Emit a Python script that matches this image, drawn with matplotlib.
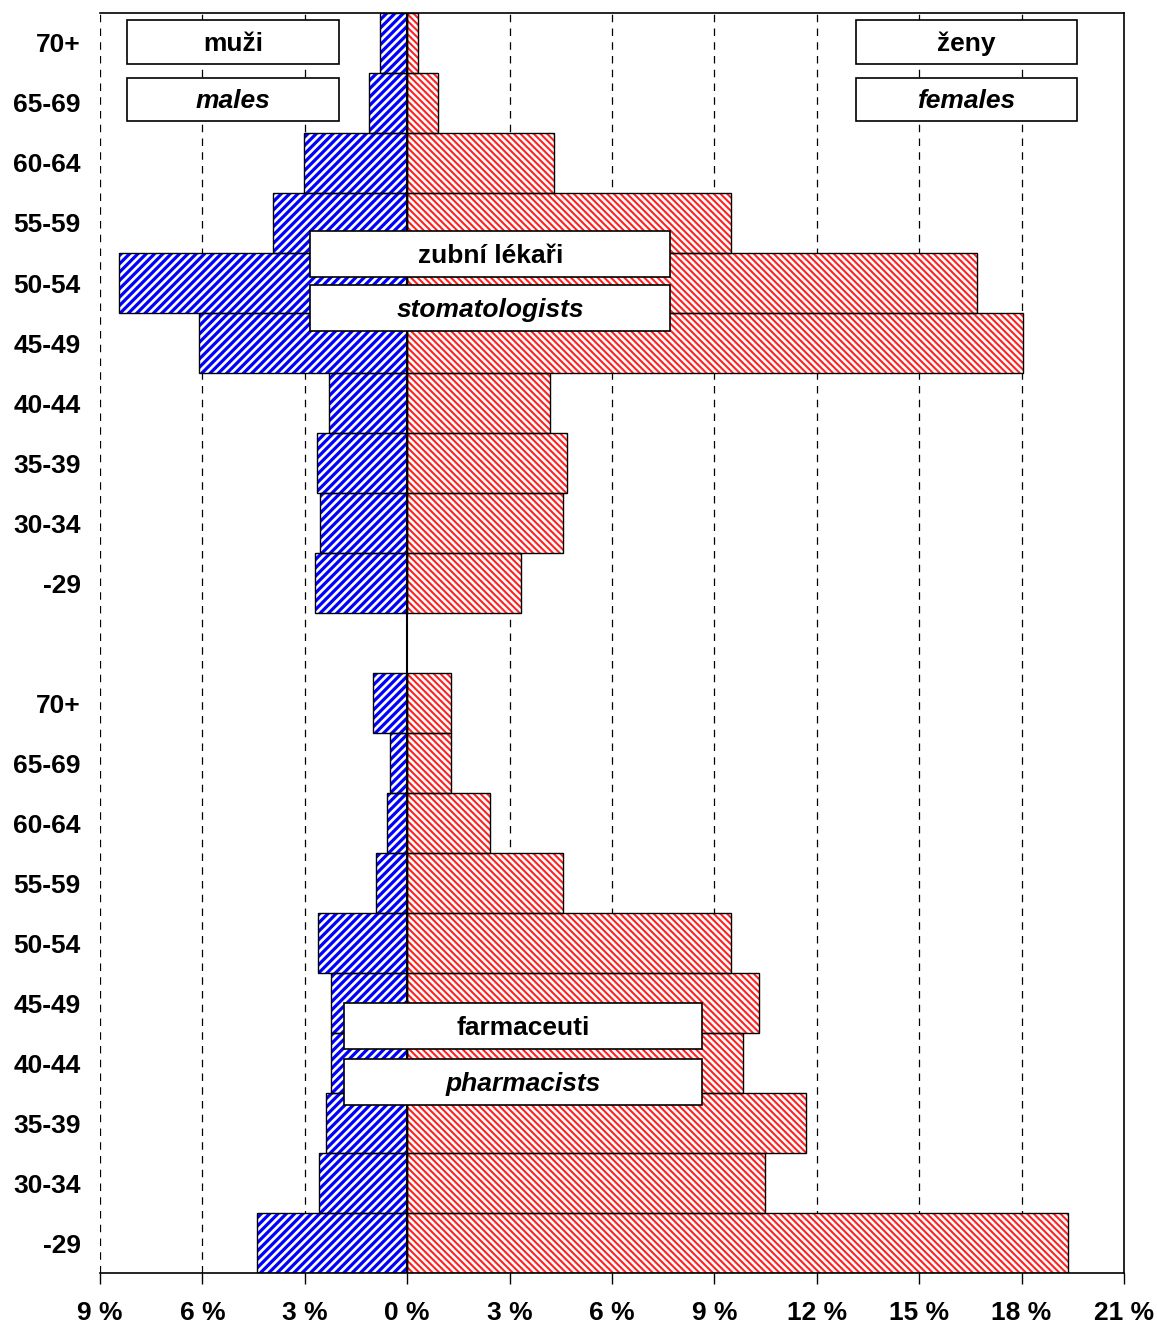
import matplotlib.pyplot as plt
from matplotlib.patches import Rectangle

plt.rcParams['font.family'] = ['Liberation Sans', 'DejaVu Sans']

# age groups (top to bottom within each block)
ages = ["70+", "65-69", "60-64", "55-59", "50-54", "45-49", "40-44", "35-39", "30-34", "-29"]

# stomatologists (zubní lékaři), % share
stom_male = [0.79, 1.11, 3.02, 3.93, 8.45, 6.10, 2.29, 2.64, 2.55, 2.70]
stom_female = [0.32, 0.91, 4.31, 9.50, 16.69, 18.03, 4.19, 4.69, 4.57, 3.34]

# pharmacists (farmaceuti), % share
phar_male = [1.00, 0.50, 0.59, 0.91, 2.61, 2.23, 2.23, 2.38, 2.58, 4.40]
phar_female = [1.29, 1.29, 2.43, 4.57, 9.50, 10.32, 9.85, 11.67, 10.47, 19.35]

xticks = [-9, -6, -3, 0, 3, 6, 9, 12, 15, 18, 21]
xlabels = ["9 %", "6 %", "3 %", "0 %", "3 %", "6 %", "9 %", "12 %", "15 %", "18 %", "21 %"]

# y positions: top block 20..11, gap at 10, bottom block 9..0
pos_top = [20 - i for i in range(10)]
pos_bot = [9 - i for i in range(10)]

fig = plt.figure(figsize=(11.57, 13.25), dpi=100)
ax = fig.add_axes([0.0864, 0.0392, 0.8851, 0.9510])

for pos, m, f in [(pos_top, stom_male, stom_female), (pos_bot, phar_male, phar_female)]:
    neg = [-v for v in m]
    with plt.rc_context({'hatch.linewidth': 2.3}):
        ax.barh(pos, neg, height=1.0, color='white', edgecolor='#0000ff', hatch='////', linewidth=0, zorder=2)
    ax.barh(pos, neg, height=1.0, fill=False, edgecolor='black', linewidth=1.0, zorder=3)
    with plt.rc_context({'hatch.linewidth': 1.5}):
        ax.barh(pos, f, height=1.0, color='white', edgecolor='#ff2020', hatch='\\\\\\\\\\', linewidth=0, zorder=2)
    ax.barh(pos, f, height=1.0, fill=False, edgecolor='black', linewidth=1.0, zorder=3)

# dashed gridlines
for x in xticks:
    if x not in (0, 21):
        ax.axvline(x, color='black', linestyle=(0, (6, 5)), linewidth=0.9, zorder=1)
ax.axvline(0, color='black', linewidth=1.5, zorder=4)

ax.set_xlim(-9, 21)
ax.set_ylim(-0.5, 20.5)
ax.set_xticks(xticks)
ax.set_xticklabels(xlabels, fontsize=19, fontweight='bold')
ax.tick_params(axis='x', direction='out', length=8, width=1, pad=12)
ax.set_yticks(pos_top + pos_bot)
ax.set_yticklabels(ages + ages, fontsize=19, fontweight='bold')
ax.tick_params(axis='y', length=0, pad=14)
ax.spines['left'].set_visible(False)
for s in ['top', 'right', 'bottom']:
    ax.spines[s].set_linewidth(1.2)


def label_box(x0, x1, y0, y1, text, italic=False):
    ax.add_patch(Rectangle((x0, y0), x1 - x0, y1 - y0, facecolor='white',
                           edgecolor='black', linewidth=1.2, zorder=5))
    ax.text((x0 + x1) / 2, (y0 + y1) / 2 - 0.03, text, ha='center', va='center',
            fontsize=19, fontweight='bold', style='italic' if italic else 'normal', zorder=6)


label_box(-8.2, -2.0, 19.65, 20.38, "muži")
label_box(-8.2, -2.0, 18.70, 19.42, "males", italic=True)
label_box(13.14, 19.62, 19.65, 20.38, "ženy")
label_box(13.14, 19.62, 18.70, 19.42, "females", italic=True)
label_box(-2.84, 7.71, 16.10, 16.87, "zubní lékaři")
label_box(-2.84, 7.71, 15.20, 15.97, "stomatologists", italic=True)
label_box(-1.85, 8.65, 3.23, 4.00, "farmaceuti")
label_box(-1.85, 8.65, 2.30, 3.07, "pharmacists", italic=True)

fig.savefig("out.png", dpi=100)
